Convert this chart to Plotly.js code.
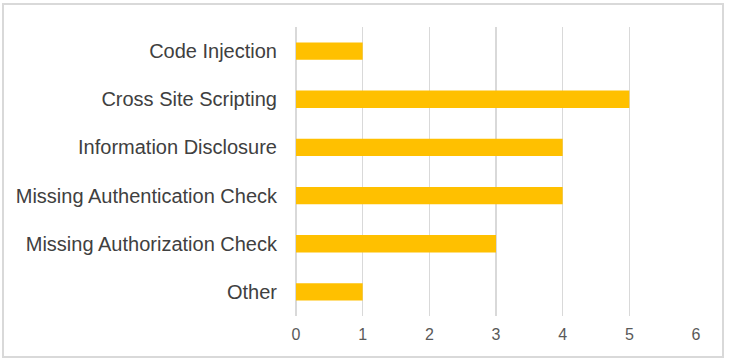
<!DOCTYPE html>
<html>
<head>
<meta charset="utf-8">
<script src="https://cdn.plot.ly/plotly-3.0.1.min.js"></script>
<style>html,body{margin:0;padding:0;background:#fff;}#chart{width:730px;height:362px;}</style>
</head>
<body>
<div id="chart"></div>
<script>
const categories = ["Code Injection", "Cross Site Scripting", "Information Disclosure", "Missing Authentication Check", "Missing Authorization Check", "Other"];
const counts = [1, 5, 4, 4, 3, 1];
const tickValues = [0, 1, 2, 3, 4, 5, 6];

const trace = {
  type: "bar",
  orientation: "h",
  y: categories,
  x: counts,
  marker: {color: "#FFC000"},
  hoverinfo: "x+y"
};

const layout = {
  width: 730, height: 362,
  margin: {l: 296, r: 34, t: 27, b: 46, pad: 0},
  paper_bgcolor: "#fff", plot_bgcolor: "#fff",
  bargap: 0.64,
  showlegend: false,
  font: {family: "Liberation Sans, Arial, sans-serif"},
  xaxis: {
    range: [0, 6], tickvals: tickValues, ticktext: tickValues.map(String),
    showgrid: true, gridcolor: "#d9d9d9", gridwidth: 1.5,
    zeroline: true, zerolinecolor: "#d9d9d9", zerolinewidth: 1.5,
    showline: false, ticks: "", ticklen: 0,
    ticklabelstandoff: 7,
    tickfont: {size: 16, color: "#595959"}, fixedrange: true
  },
  yaxis: {
    type: "category", autorange: "reversed",
    showgrid: false, zeroline: false, showline: false, ticks: "",
    ticklabelstandoff: 18,
    tickfont: {size: 20, color: "#404040"}, fixedrange: true
  },
  shapes: [{
    type: "rect", xref: "paper", yref: "paper",
    x0: -0.7325, x1: 1.0675, y0: -0.1419, y1: 1.0796,
    line: {color: "#d9d9d9", width: 2}, fillcolor: "rgba(0,0,0,0)", layer: "below"
  }]
};

Plotly.newPlot("chart", [trace], layout, {displayModeBar: false, staticPlot: true});
</script>
</body>
</html>
